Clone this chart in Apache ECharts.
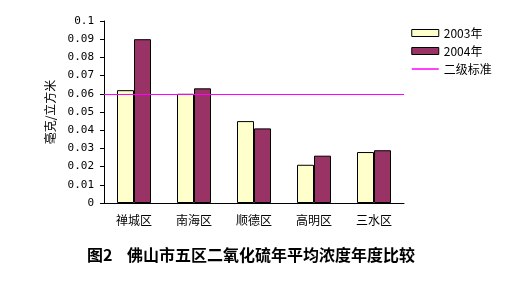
<!DOCTYPE html>
<html><head><meta charset="utf-8">
<script src="https://cdn.jsdelivr.net/npm/echarts@6/dist/echarts.min.js"></script>
<style>html,body{margin:0;padding:0;background:#fff}#c{width:512px;height:283px}</style>
</head><body><div id="c"></div>
<script>
var categories = ['禅城区', '南海区', '顺德区', '高明区', '三水区'];
var values2003 = [0.062, 0.060, 0.045, 0.021, 0.028];
var values2004 = [0.090, 0.063, 0.041, 0.026, 0.029];
var standardValue = 0.06;
var seriesNames = ['2003年', '2004年', '二级标准'];
var yAxisName = '毫克/立方米';
var titleText = '图2    佛山市五区二氧化硫年平均浓度年度比较';

var cjk = '"Noto Sans CJK SC", sans-serif';
var chart = echarts.init(document.getElementById('c'), null, {renderer: 'canvas'});
chart.setOption({
  animation: false,
  backgroundColor: '#fff',
  title: {
    text: titleText, left: 82, top: 242,
    textStyle: {fontFamily: cjk, fontSize: 16, fontWeight: 'bold', color: '#000'}
  },
  legend: {
    orient: 'vertical', left: 406, top: 22, itemWidth: 27, itemHeight: 7, itemGap: 6,
    textStyle: {fontFamily: cjk, fontSize: 12, color: '#000'},
    data: [
      {name: seriesNames[0], icon: 'rect', itemStyle: {borderColor: '#000', borderWidth: 1}},
      {name: seriesNames[1], icon: 'rect', itemStyle: {borderColor: '#000', borderWidth: 1}},
      {name: seriesNames[2], itemStyle: {opacity: 0}, lineStyle: {color: '#FF00FF', width: 1.5}}
    ]
  },
  grid: {left: 104, right: 108, top: 21, bottom: 80},
  xAxis: {
    type: 'category', data: categories,
    axisLine: {lineStyle: {color: '#000', width: 1}},
    axisTick: {inside: true, length: 4, lineStyle: {color: '#000'}},
    axisLabel: {fontFamily: cjk, fontSize: 12, color: '#000', margin: 11}
  },
  yAxis: {
    type: 'value', min: 0, max: 0.1, interval: 0.01,
    name: yAxisName, nameLocation: 'middle', nameRotate: 90, nameGap: 46,
    nameTextStyle: {fontFamily: cjk, fontSize: 12, color: '#000'},
    axisLine: {show: true, lineStyle: {color: '#000', width: 1}},
    axisTick: {show: true, length: 4, lineStyle: {color: '#000'}},
    splitLine: {show: false},
    axisLabel: {fontFamily: '"DejaVu Sans Mono", monospace', fontSize: 11, color: '#000', margin: 10,
      formatter: function (v) { return String(+v.toFixed(2)); }}
  },
  series: [
    {name: seriesNames[0], type: 'bar', data: values2003, barWidth: 17, barGap: '0%',
      itemStyle: {color: '#FFFFCC', borderColor: '#000', borderWidth: 1}},
    {name: seriesNames[1], type: 'bar', data: values2004, barWidth: 17, barGap: '0%',
      itemStyle: {color: '#993366', borderColor: '#000', borderWidth: 1}},
    {name: seriesNames[2], type: 'line', data: [], symbol: 'none',
      lineStyle: {color: '#FF00FF', width: 1}, itemStyle: {color: '#FF00FF'},
      markLine: {silent: true, symbol: 'none', label: {show: false},
        lineStyle: {color: '#FF00FF', width: 1, type: 'solid'},
        data: [{yAxis: standardValue}]}}
  ]
});
</script>
</body></html>
